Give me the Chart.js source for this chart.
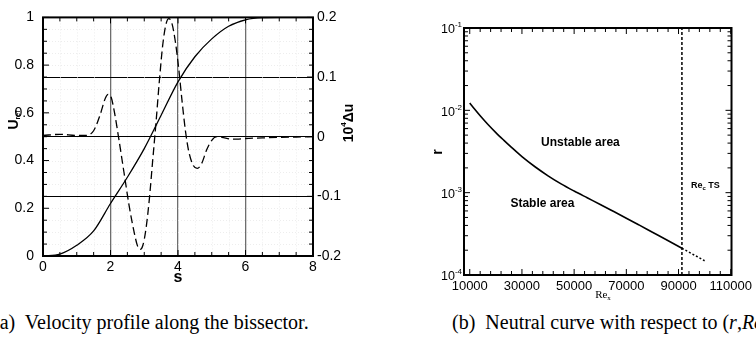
<!DOCTYPE html>
<html>
<head>
<meta charset="utf-8">
<script src="https://cdn.jsdelivr.net/npm/chart.js@4.4.0/dist/chart.umd.min.js"></script>
<style>
	html, body { margin: 0; padding: 0; background: #fff; }
	body { width: 756px; height: 347px; position: relative; overflow: hidden; }
	#graficoVelocidade { position: absolute; left: 0; top: 0; }
	#graficoNeutra { position: absolute; left: 378px; top: 0; }
	.legenda { position: absolute; top: 311px; font-family: 'Liberation Serif', 'Times New Roman', serif; font-size: 20px; white-space: nowrap; color: #000; }
	.legenda sub { font-size: 12px; }
</style>
</head>
<body>
<canvas id="graficoVelocidade" width="370" height="290"></canvas>
<canvas id="graficoNeutra" width="378" height="305"></canvas>
<div class="legenda" style="left:-7px">(a)&nbsp; Velocity profile along the bissector.</div>
<div class="legenda" style="left:452px">(b)&nbsp; Neutral curve with respect to (<i>r</i>,<i>Re</i><sub>x</sub>).</div>
<script>
// (a) perfil de velocidade
const sU = [0, 0.5, 1, 1.5, 2, 2.5, 3, 3.5, 4, 4.5, 5, 5.5, 6, 6.5, 7, 7.5, 8];
const uRef = [0, 0.008, 0.045, 0.105, 0.22, 0.33, 0.45, 0.59, 0.73, 0.835, 0.91, 0.963, 0.99, 0.999, 1, 1, 1];

const sDu = [0, 0.5, 1, 1.25, 1.5, 1.7, 1.85, 1.93, 2.02, 2.12, 2.25, 2.4, 2.55, 2.7, 2.8, 2.88, 2.96, 3.05, 3.15, 3.25,
	3.35, 3.45, 3.55, 3.65, 3.73, 3.82, 3.92, 4.02, 4.12, 4.22, 4.32, 4.45, 4.57, 4.7, 4.85, 5, 5.15, 5.3, 5.6, 5.8, 6, 6.5, 7, 7.5, 8];
const du = [0.002, 0.004, 0.002, 0.002, 0.01, 0.038, 0.065, 0.071, 0.066, 0.04, -0.005, -0.06, -0.115, -0.16, -0.183, -0.189, -0.182, -0.155, -0.105, -0.04,
	0.025, 0.095, 0.155, 0.19, 0.198, 0.19, 0.16, 0.115, 0.06, 0.01, -0.025, -0.048, -0.053, -0.045, -0.022, -0.006, 0, -0.001, -0.004, -0.004, -0.003, -0.002, -0.001, -0.0005, 0];

// (b) curva neutra
const reNeutra = [10000, 12000, 14000, 17000, 20000, 23000, 26000, 30000, 35000, 40000, 45000, 50000,
	55000, 60000, 65000, 70000, 75000, 80000, 85000, 91300];
const rNeutra = [0.0123, 0.01023, 0.00859, 0.00673, 0.00537, 0.00435, 0.00355, 0.00274, 0.002065, 0.001603, 0.001279, 0.001047,
	0.000867, 0.000719, 0.000594, 0.00049, 0.000403, 0.000331, 0.000272, 0.000211];
const reExtrapolada = [91300, 96000, 100000];
const rExtrapolada = [0.000211, 0.000175, 0.000149];
const reCritico = 91300;
const rotulosRe = [10000, 30000, 50000, 70000, 90000, 110000];
const decadas = [1e-4, 1e-3, 1e-2, 1e-1];

const fonteSans = "'Liberation Sans', Arial, sans-serif";
const fonteSerif = "'Liberation Serif', 'Times New Roman', serif";

function pontos(xs, ys) {
	return xs.map((x, i) => ({ x: x, y: ys[i] }));
}

function serie(inicio, fim, passo) {
	const v = [];
	for (let k = 0; inicio + k * passo <= fim + 1e-9; k++) v.push(+(inicio + k * passo).toFixed(6));
	return v;
}

function multiplo(v, m) {
	return Math.abs(v / m - Math.round(v / m)) < 1e-6;
}

function marcasLog() {
	const m = [];
	decadas.forEach((d, i) => {
		m.push([d, true]);
		if (i < decadas.length - 1) for (let k = 2; k < 10; k++) m.push([d * k, false]);
	});
	return m;
}

function desenhaTexto(ctx, partes, x, y, angulo, alinhar) {
	ctx.save();
	ctx.translate(x, y);
	ctx.rotate(angulo || 0);
	ctx.fillStyle = '#000';
	ctx.textBaseline = 'middle';
	ctx.textAlign = 'left';
	let w = 0;
	partes.forEach(p => { ctx.font = p.f; w += ctx.measureText(p.t).width; });
	let cx = alinhar === 'right' ? -w : -w / 2;
	partes.forEach(p => {
		ctx.font = p.f;
		ctx.fillText(p.t, cx, p.dy || 0);
		cx += ctx.measureText(p.t).width;
	});
	ctx.restore();
}

function linha(ctx, x1, y1, x2, y2) {
	ctx.beginPath();
	ctx.moveTo(x1, y1);
	ctx.lineTo(x2, y2);
	ctx.stroke();
}

// moldura, marcas para dentro, grade fina e textos
const moldura = {
	id: 'moldura',
	beforeDatasetsDraw(chart, args, opts) {
		if (!opts.gradeFina) return;
		const { ctx, chartArea: a, scales } = chart;
		ctx.save();
		ctx.strokeStyle = '#ededed';
		ctx.lineWidth = 1;
		ctx.setLineDash([1, 2]);
		opts.gradeFina.x.forEach(v => {
			const p = Math.round(scales.x.getPixelForValue(v)) + 0.5;
			linha(ctx, p, a.top, p, a.bottom);
		});
		opts.gradeFina.y.forEach(v => {
			const p = Math.round(scales.y.getPixelForValue(v)) + 0.5;
			linha(ctx, a.left, p, a.right, p);
		});
		ctx.restore();
	},
	afterDatasetsDraw(chart, args, opts) {
		const { ctx, chartArea: a, scales } = chart;
		ctx.save();
		ctx.strokeStyle = '#000';
		ctx.lineWidth = 1;
		opts.horizontal.forEach(([v, maior]) => {
			const p = scales.x.getPixelForValue(v);
			const t = maior ? 6 : 4;
			linha(ctx, p, a.bottom, p, a.bottom - t);
			linha(ctx, p, a.top, p, a.top + t);
		});
		opts.esquerda.forEach(([v, maior]) => {
			const p = scales.y.getPixelForValue(v);
			linha(ctx, a.left, p, a.left + (maior ? 6 : 4), p);
		});
		const eixoDir = scales[opts.eixoDireita];
		opts.direita.forEach(([v, maior]) => {
			const p = eixoDir.getPixelForValue(v);
			linha(ctx, a.right, p, a.right - (maior ? 6 : 4), p);
		});
		ctx.lineWidth = 2;
		ctx.strokeRect(a.left, a.top, a.right - a.left, a.bottom - a.top);
		ctx.restore();

		(opts.titulos || []).forEach(t => desenhaTexto(ctx, t.partes, t.x, t.y, t.angulo, t.alinhar));
		(opts.anotacoes || []).forEach(t => desenhaTexto(ctx, t.partes,
			scales.x.getPixelForValue(t.x), scales.y.getPixelForValue(t.y)));
		if (opts.rotulosLog) {
			decadas.forEach(d => {
				desenhaTexto(ctx, [
					{ t: '10', f: '12.5px ' + fonteSans },
					{ t: String(Math.round(Math.log10(d))), f: '8px ' + fonteSans, dy: -5 }
				], a.left - 2, scales.y.getPixelForValue(d) + 2, 0, 'right');
			});
		}
	}
};

const rotuloSimples = (v) => String(+Number(v).toFixed(3));

document.addEventListener('DOMContentLoaded', function () {
	const ctxA = document.getElementById('graficoVelocidade').getContext('2d');

	new Chart(ctxA, {
		type: 'line',
		data: {
			datasets: [
				{
					label: 'U_ref',
					data: pontos(sU, uRef),
					yAxisID: 'y',
					borderColor: '#000',
					borderWidth: 1.3,
					pointRadius: 0,
					cubicInterpolationMode: 'monotone',
				},
				{
					label: '10^4 Δu',
					data: pontos(sDu, du),
					yAxisID: 'y1',
					borderColor: '#000',
					borderWidth: 1.3,
					borderDash: [8, 4],
					pointRadius: 0,
					cubicInterpolationMode: 'monotone',
				},
			],
		},
		options: {
			responsive: false,
			animation: false,
			layout: { padding: { top: 12, left: 0, right: 0, bottom: 0 } },
			plugins: {
				legend: { display: false },
				tooltip: { enabled: false },
				moldura: {
					horizontal: serie(0, 8, 0.5).map(v => [v, multiplo(v, 2)]),
					esquerda: serie(0, 1, 0.05).map(v => [v, multiplo(v, 0.2)]),
					direita: serie(-0.2, 0.2, 0.02).map(v => [v, multiplo(v, 0.1)]),
					eixoDireita: 'y1',
					gradeFina: {
						x: serie(0.5, 7.5, 0.5).filter(v => !multiplo(v, 2)),
						y: serie(0.05, 0.95, 0.05).filter(v => !multiplo(v, 0.25)),
					},
					titulos: [
						{ partes: [{ t: 'U', f: 'bold 14px ' + fonteSans }, { t: 'ref', f: 'bold 7px ' + fonteSans, dy: 4 }], x: 14, y: 120, angulo: -Math.PI / 2 },
						{ partes: [{ t: 's', f: 'bold 16px ' + fonteSans }], x: 178, y: 278 },
						{ partes: [{ t: '10', f: 'bold 14px ' + fonteSans }, { t: '4', f: 'bold 8px ' + fonteSans, dy: -5 }, { t: 'Δu', f: 'bold 14px ' + fonteSans }], x: 349, y: 123, angulo: -Math.PI / 2 },
					],
				},
			},
			scales: {
				x: {
					type: 'linear',
					min: 0,
					max: 8,
					ticks: { stepSize: 2, padding: 3, color: '#000', font: { family: fonteSans, size: 14 }, maxRotation: 0, callback: rotuloSimples },
					grid: {
						drawTicks: false,
						lineWidth: 1.3,
						color: (c) => (c.tick && c.tick.value > 0 && c.tick.value < 8 ? '#6e6e6e' : 'rgba(0,0,0,0)'),
					},
					border: { display: false },
					afterFit: (eixo) => { eixo.height = 34; },
				},
				y: {
					type: 'linear',
					position: 'left',
					min: 0,
					max: 1,
					ticks: { stepSize: 0.2, padding: 9, color: '#000', font: { family: fonteSans, size: 14 }, callback: rotuloSimples },
					grid: { display: false, drawTicks: false },
					border: { display: false },
					afterFit: (eixo) => { eixo.width = 43; },
				},
				y1: {
					type: 'linear',
					position: 'right',
					min: -0.2,
					max: 0.2,
					ticks: { stepSize: 0.1, padding: 4, color: '#000', font: { family: fonteSans, size: 14 }, callback: rotuloSimples },
					grid: {
						drawTicks: false,
						lineWidth: 1,
						color: (c) => (c.tick && Math.abs(c.tick.value) < 0.15 ? '#000' : 'rgba(0,0,0,0)'),
					},
					border: { display: false },
					afterFit: (eixo) => { eixo.width = 57; },
				},
			},
		},
		plugins: [moldura],
	});

	const ctxB = document.getElementById('graficoNeutra').getContext('2d');

	new Chart(ctxB, {
		type: 'line',
		data: {
			datasets: [
				{
					label: 'Neutral curve',
					data: pontos(reNeutra, rNeutra),
					borderColor: '#000',
					borderWidth: 1.6,
					pointRadius: 0,
					cubicInterpolationMode: 'monotone',
				},
				{
					label: 'Neutral curve (dotted)',
					data: pontos(reExtrapolada, rExtrapolada),
					borderColor: '#000',
					borderWidth: 1.5,
					borderDash: [2, 2],
					pointRadius: 0,
				},
				{
					label: 'Re_c TS',
					data: pontos([reCritico, reCritico], [decadas[0], decadas[decadas.length - 1]]),
					borderColor: '#000',
					borderWidth: 1.5,
					borderDash: [3, 2],
					pointRadius: 0,
				},
			],
		},
		options: {
			responsive: false,
			animation: false,
			layout: { padding: { top: 28, left: 0, right: 22, bottom: 0 } },
			plugins: {
				legend: { display: false },
				tooltip: { enabled: false },
				moldura: {
					horizontal: serie(10000, 110000, 4000).map(v => [v, multiplo(v - 10000, 20000)]),
					esquerda: marcasLog(),
					direita: marcasLog(),
					eixoDireita: 'y',
					rotulosLog: true,
					titulos: [
						{ partes: [{ t: 'r', f: 'bold 14px ' + fonteSans }], x: 60, y: 152, angulo: -Math.PI / 2 },
						{ partes: [{ t: 'Re', f: '11px ' + fonteSerif }, { t: 'x', f: '7px ' + fonteSerif, dy: 3 }], x: 225, y: 295 },
					],
					anotacoes: [
						{ partes: [{ t: 'Unstable area', f: 'bold 12px ' + fonteSans }], x: 52400, y: 0.0040 },
						{ partes: [{ t: 'Stable area', f: 'bold 12px ' + fonteSans }], x: 37850, y: 0.000735 },
						{ partes: [{ t: 'Re', f: 'bold 9px ' + fonteSans }, { t: 'c', f: 'bold 6px ' + fonteSans, dy: 3 }, { t: ' TS', f: 'bold 9px ' + fonteSans }], x: 100300, y: 0.00122 },
					],
				},
			},
			scales: {
				x: {
					type: 'linear',
					min: 7800,
					max: 110300,
					afterBuildTicks: (eixo) => { eixo.ticks = rotulosRe.map(v => ({ value: v })); },
					ticks: {
						padding: 4,
						autoSkip: false,
						maxRotation: 0,
						color: '#000',
						font: { family: fonteSans, size: 13 },
						callback: (v) => String(v),
					},
					grid: { display: false, drawTicks: false },
					border: { display: false },
					afterFit: (eixo) => { eixo.height = 30; },
				},
				y: {
					type: 'logarithmic',
					min: decadas[0],
					max: decadas[decadas.length - 1],
					ticks: { display: false },
					grid: { display: false, drawTicks: false },
					border: { display: false },
					afterFit: (eixo) => { eixo.width = 86; },
				},
			},
		},
		plugins: [moldura],
	});
});
</script>
</body>
</html>
